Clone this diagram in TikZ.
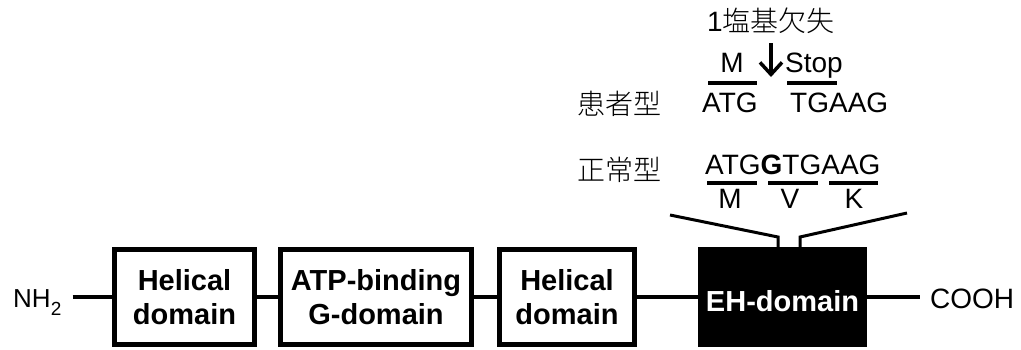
\documentclass[tikz,border=0pt]{standalone}
\usepackage{fontspec}
\setmainfont{Liberation Sans}
\newfontfamily\jp{Noto Sans CJK JP Light}
\usetikzlibrary{arrows.meta}
\tikzset{
  txt/.style={inner sep=0pt, anchor=base west, font=\fontsize{28}{34}\selectfont},
  jptxt/.style={txt, font=\fontsize{28}{34}\selectfont\jp},
  dombox/.style={draw, line width=5pt, minimum height=95pt, inner sep=0pt,
    align=center, font=\fontsize{29}{34}\selectfont\bfseries},
  blackbox/.style={fill=black, draw=none, minimum height=100pt, inner sep=0pt,
    text=white, text height=28pt, text depth=0pt, font=\fontsize{29}{34}\selectfont\bfseries},
  link/.style={line width=4.5pt},
  bar/.style={line width=4pt},
  brk/.style={line width=3pt, line join=miter},
}
\begin{document}
\begin{tikzpicture}[x=1pt,y=-1pt]
\useasboundingbox (0,0) rectangle (1021,349);

% domain boxes
\node[dombox, minimum width=140pt] (b1) at (184.5,297) {Helical\\domain};
\node[dombox, minimum width=191pt] (b2) at (376,297) {ATP-binding\\G-domain};
\node[dombox, minimum width=135pt] (b3) at (567,297) {Helical\\domain};
\node[blackbox, minimum width=169pt] (b4) at (782.5,297) {EH-domain};

% termini
\node[txt, inner xsep=11pt, font=\fontsize{26}{30}\selectfont] (nh2) at (2,307)
  {NH\raisebox{-8pt}{\fontsize{19}{19}\selectfont 2}};
\node[txt, inner xsep=10pt] (cooh) at (920,308) {COOH};

% connectors
\draw[link] (nh2.east |- b1.west) -- (b1.west);
\draw[link] (b1.east) -- (b2.west);
\draw[link] (b2.east) -- (b3.west);
\draw[link] (b3.east) -- (b4.west);
\draw[link] (b4.east) -- (b4.east -| cooh.west);

% bracket to EH-domain
\coordinate (bl0) at (670,215);
\coordinate (bl1) at (778,237);
\coordinate (bl2) at (778,247);
\coordinate (br0) at (907,213);
\coordinate (br1) at (800,237);
\coordinate (br2) at (800,247);
\draw[brk] (bl0) -- (bl1) -- (bl2);
\draw[brk] (br0) -- (br1) -- (br2);

% normal type
\node[jptxt] (seisho) at (577,180) {正常型};
\node[txt] (nseq) at (705,174) {ATG\textbf{G}TGAAG};
\coordinate (n1a) at (707,183); \coordinate (n1b) at (757,183);
\coordinate (n2a) at (768,183); \coordinate (n2b) at (818,183);
\coordinate (n3a) at (829,183); \coordinate (n3b) at (878,183);
\draw[bar] (n1a) -- (n1b);
\draw[bar] (n2a) -- (n2b);
\draw[bar] (n3a) -- (n3b);
\node[txt, anchor=base] (aM) at (730,208) {M};
\node[txt, anchor=base] (aV) at (790,208) {V};
\node[txt, anchor=base] (aK) at (854,208) {K};

% patient type
\node[jptxt] (kanja) at (577,114) {患者型};
\node[txt] (pseq1) at (702,112) {ATG};
\node[txt] (pseq2) at (790,112) {TGAAG};
\coordinate (p1a) at (708,83); \coordinate (p1b) at (757,83);
\coordinate (p2a) at (787,83); \coordinate (p2b) at (837,83);
\draw[bar] (p1a) -- (p1b);
\draw[bar] (p2a) -- (p2b);
\node[txt, anchor=base] (pM) at (732,72.5) {M};
\node[txt] (stop) at (785,72.5) {Stop};

% deletion arrow
\coordinate (at) at (771,43);
\coordinate (ab) at (771,77);
\draw[line width=3.5pt, -{Straight Barb[length=12pt,width=22pt,line width=3.5pt]}] (at) -- (ab);
\node[txt] (del) at (707,31) {1{\jp 塩基欠失}};
\end{tikzpicture}
\end{document}
